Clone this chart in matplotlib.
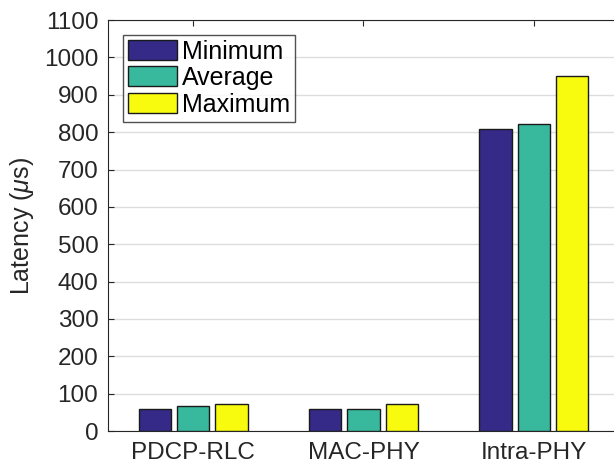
import numpy as np
import matplotlib.pyplot as plt

plt.rcParams['font.family'] = ['Liberation Sans', 'DejaVu Sans']
plt.rcParams['mathtext.fontset'] = 'custom'
plt.rcParams['mathtext.it'] = 'Liberation Sans:italic'

# latency per split, in microseconds
splits = ['PDCP-RLC', 'MAC-PHY', 'Intra-PHY']
lat_min = [60, 60, 808]
lat_avg = [66, 60, 821]
lat_max = [73, 73, 950]

series = [('Minimum', lat_min, '#352a87'),
          ('Average', lat_avg, '#38b99e'),
          ('Maximum', lat_max, '#f9fb0e')]

fig = plt.figure(figsize=(6.14, 4.68), dpi=100)
ax = fig.add_axes([0.176, 0.079, 0.832, 0.878])

x = np.arange(1, len(splits) + 1)
w = 0.19
step = 0.225
for i, (name, vals, col) in enumerate(series):
    ax.bar(x + (i - 1) * step, vals, w, color=col, edgecolor='#1a1a1a',
           linewidth=1.0, label=name, zorder=3)

ax.set_xlim(0.5, 3.5)
ax.set_ylim(0, 1100)
ax.set_xticks(x)
ax.set_xticklabels(splits)
ax.set_yticks(np.arange(0, 1101, 100))
ax.yaxis.grid(True, color='#dddddd', linewidth=1.0, zorder=0)
ax.set_axisbelow(True)
ax.tick_params(direction='in', top=True, right=False, labelsize=17.5,
               colors='#262626', length=4)
ax.tick_params(axis='y', pad=7)
ax.tick_params(axis='x', pad=8)
for s in ax.spines.values():
    s.set_color('#262626')
ax.spines['right'].set_visible(False)
ax.set_ylabel(r'Latency ($\mu$s)', fontsize=18, color='#262626', labelpad=6)

leg = ax.legend(loc='upper left', fontsize=18, frameon=True, fancybox=False,
                edgecolor='#262626', borderpad=0.2, handlelength=1.95,
                handleheight=0.85, handletextpad=0.2, labelspacing=0.1,
                borderaxespad=0, bbox_to_anchor=(0.029, 0.965))
leg.get_frame().set_linewidth(1.0)

fig.savefig('out.png', dpi=100)
